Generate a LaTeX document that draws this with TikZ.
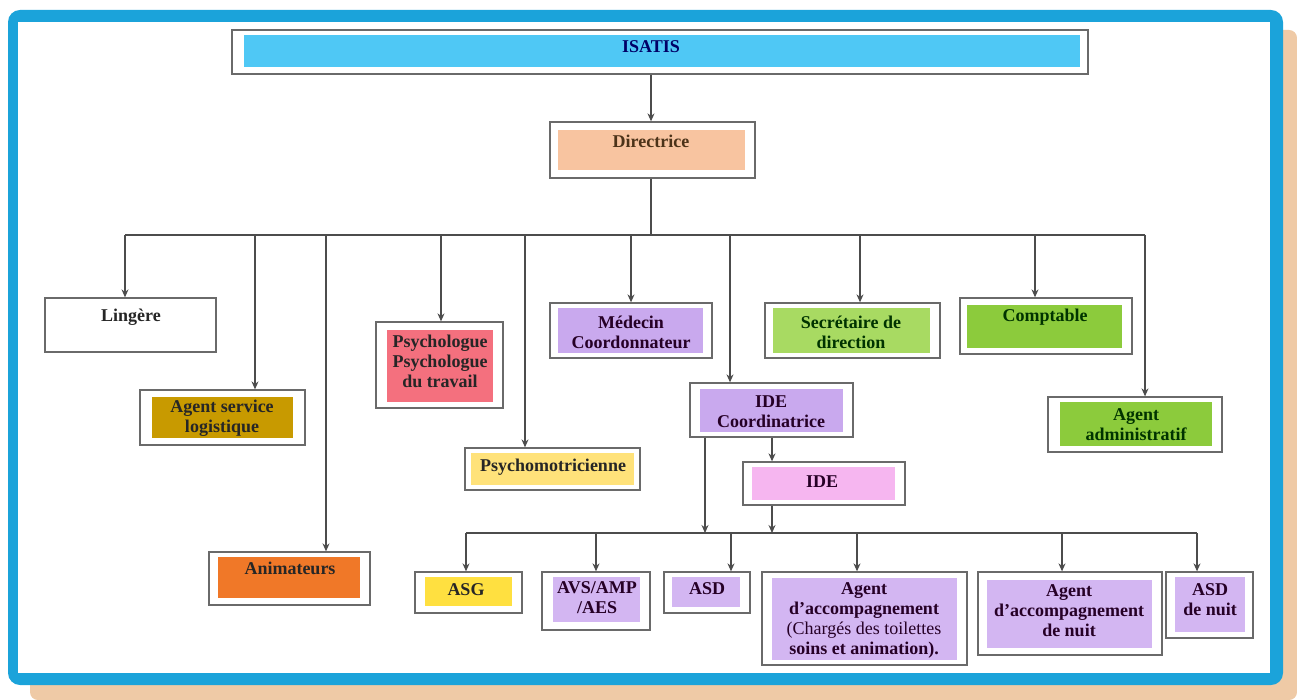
\documentclass[tikz,border=0pt]{standalone}
\usepackage{fontspec}
\setmainfont{Liberation Serif}
\usetikzlibrary{arrows.meta}
\definecolor{frameblue}{HTML}{1BA3DA}
\definecolor{framepeach}{HTML}{EFCAA6}
\definecolor{cIsatis}{HTML}{4FC8F5}
\definecolor{cDir}{HTML}{F8C4A0}
\definecolor{cLog}{HTML}{C89A00}
\definecolor{cAnim}{HTML}{F07828}
\definecolor{cPsy}{HTML}{F4707E}
\definecolor{cMot}{HTML}{FFE27A}
\definecolor{cLav}{HTML}{C9A9EE}
\definecolor{cLavB}{HTML}{D3B6F2}
\definecolor{cPink}{HTML}{F6B6F0}
\definecolor{cSec}{HTML}{A8DA62}
\definecolor{cGreen}{HTML}{8CCB3C}
\definecolor{cAsg}{HTML}{FFE040}
\definecolor{edge}{HTML}{6A6A6A}
\begin{document}
\begin{tikzpicture}[x=1pt,y=-1pt,
  ob/.style={draw=edge,line width=1.3pt,fill=white,rectangle,inner sep=0pt},
  lbl/.style={align=center,inner sep=0pt,font=\bfseries\fontsize{18}{20}\selectfont,text=black!85},
  conn/.style={draw=black!70,line width=1.1pt},
  arr/.style={conn,-{Stealth[length=8pt,width=7pt]}}]
\useasboundingbox (0,0) rectangle (1297,700);
% frame
\fill[framepeach,rounded corners=8pt] (30,30) rectangle (1297,700);
\fill[frameblue,rounded corners=12pt] (8,10) rectangle (1283,685);
\fill[white] (18,22) rectangle (1270,673);
% box macro: name, x1,y1,x2,y2, inner corner, inner corner, (unused), colour
\newcommand\orgbox[9]{%
  \node[ob,minimum width=#4pt-#2pt,minimum height=#5pt-#3pt] (#1) at ({(#2+#4)/2},{(#3+#5)/2}) {};
  \fill[#9] (#6) rectangle (#7);}
\orgbox{isatis}{232}{30}{1088}{74}{244,35}{1080,67}{}{cIsatis}
\node[lbl,text=blue!40!black] at (651,47) {ISATIS};
\orgbox{dir}{550}{122}{755}{178}{558,130}{745,170}{}{cDir}
\node[lbl,text=brown!40!black] at (651,141) {Directrice};
\orgbox{ling}{45}{298}{216}{352}{52,304}{208,346}{}{white}
\node[lbl] at (131,317) {Lingère};
\orgbox{asl}{140}{390}{305}{445}{152,397}{293,438}{}{cLog}
\node[lbl] at (222,418) {Agent service\\logistique};
\orgbox{anim}{209}{552}{370}{605}{218,557}{360,598}{}{cAnim}
\node[lbl] at (290,568) {Animateurs};
\orgbox{psy}{376}{322}{503}{408}{387,330}{493,402}{}{cPsy}
\node[lbl] at (440,361) {Psychologue\\Psychologue\\du travail};
\orgbox{mot}{465}{448}{640}{490}{471,453}{634,485}{}{cMot}
\node[lbl] at (553,467) {Psychomotricienne};
\orgbox{med}{550}{303}{712}{358}{558,308}{703,353}{}{cLav}
\node[lbl,text=violet!30!black] at (631,332) {Médecin\\Coordonnateur};
\orgbox{idec}{690}{383}{853}{437}{700,389}{843,432}{}{cLav}
\node[lbl,text=violet!30!black] at (771,412) {IDE\\Coordinatrice};
\orgbox{ide}{743}{462}{905}{505}{752,467}{895,500}{}{cPink}
\node[lbl,text=violet!30!black] at (822,482) {IDE};
\orgbox{sec}{765}{303}{940}{358}{773,308}{930,353}{}{cSec}
\node[lbl,text=green!20!black] at (851,332) {Secrétaire de\\direction};
\orgbox{comp}{960}{298}{1132}{354}{967,305}{1122,348}{}{cGreen}
\node[lbl,text=green!20!black] at (1045,317) {Comptable};
\orgbox{adm}{1048}{397}{1222}{452}{1060,402}{1212,446}{}{cGreen}
\node[lbl,text=green!20!black] at (1136,425) {Agent\\administratif};
% bottom row
\orgbox{asg}{415}{572}{522}{613}{425,577}{512,606}{}{cAsg}
\node[lbl] at (466,590) {ASG};
\orgbox{avs}{542}{572}{650}{630}{553,577}{640,622}{}{cLavB}
\node[lbl,text=violet!30!black] at (597,598) {AVS/AMP\\/AES};
\orgbox{asd}{664}{572}{750}{613}{672,577}{740,607}{}{cLavB}
\node[lbl,text=violet!30!black] at (707,589) {ASD};
\orgbox{acc}{762}{572}{967}{665}{772,578}{957,660}{}{cLavB}
\node[lbl,text=violet!30!black] at (864,620) {Agent\\d'accompagnement\\{\mdseries(Chargés des toilettes}\\soins et animation).};
\orgbox{accn}{978}{572}{1162}{655}{987,580}{1152,648}{}{cLavB}
\node[lbl,text=violet!30!black] at (1069,611) {Agent\\d'accompagnement\\de nuit};
\orgbox{asdn}{1166}{572}{1253}{638}{1175,577}{1245,632}{}{cLavB}
\node[lbl,text=violet!30!black] at (1210,600) {ASD\\de nuit};
% connectors top
\coordinate (bc) at (651,235);
\coordinate (bl) at (125,235);
\coordinate (br) at (1145,235);
\draw[arr] (bc |- isatis.south) -- (bc |- dir.north);
\draw[conn] (bc |- dir.south) -- (bc);
\draw[conn] (bl) -- (br);
\foreach \x/\n in {125/ling,255/asl,326/anim,441/psy,525/mot,631/med,730/idec,860/sec,1035/comp,1145/adm}{
  \coordinate (t\n) at (\x,235);
  \draw[arr] (t\n) -- (t\n |- \n.north);
}
% IDE branch
\coordinate (ca) at (705,533);
\coordinate (cb) at (772,533);
\draw[arr] (ca |- idec.south) -- (ca);
\draw[arr] (cb |- idec.south) -- (cb |- ide.north);
\draw[arr] (cb |- ide.south) -- (cb);
\coordinate (ll) at (466,533);
\coordinate (lr) at (1197,533);
\draw[conn] (ll) -- (lr);
\foreach \x/\n in {466/asg,596/avs,731/asd,857/acc,1062/accn,1197/asdn}{
  \coordinate (u\n) at (\x,533);
  \draw[arr] (u\n) -- (u\n |- \n.north);
}
\end{tikzpicture}
\end{document}
